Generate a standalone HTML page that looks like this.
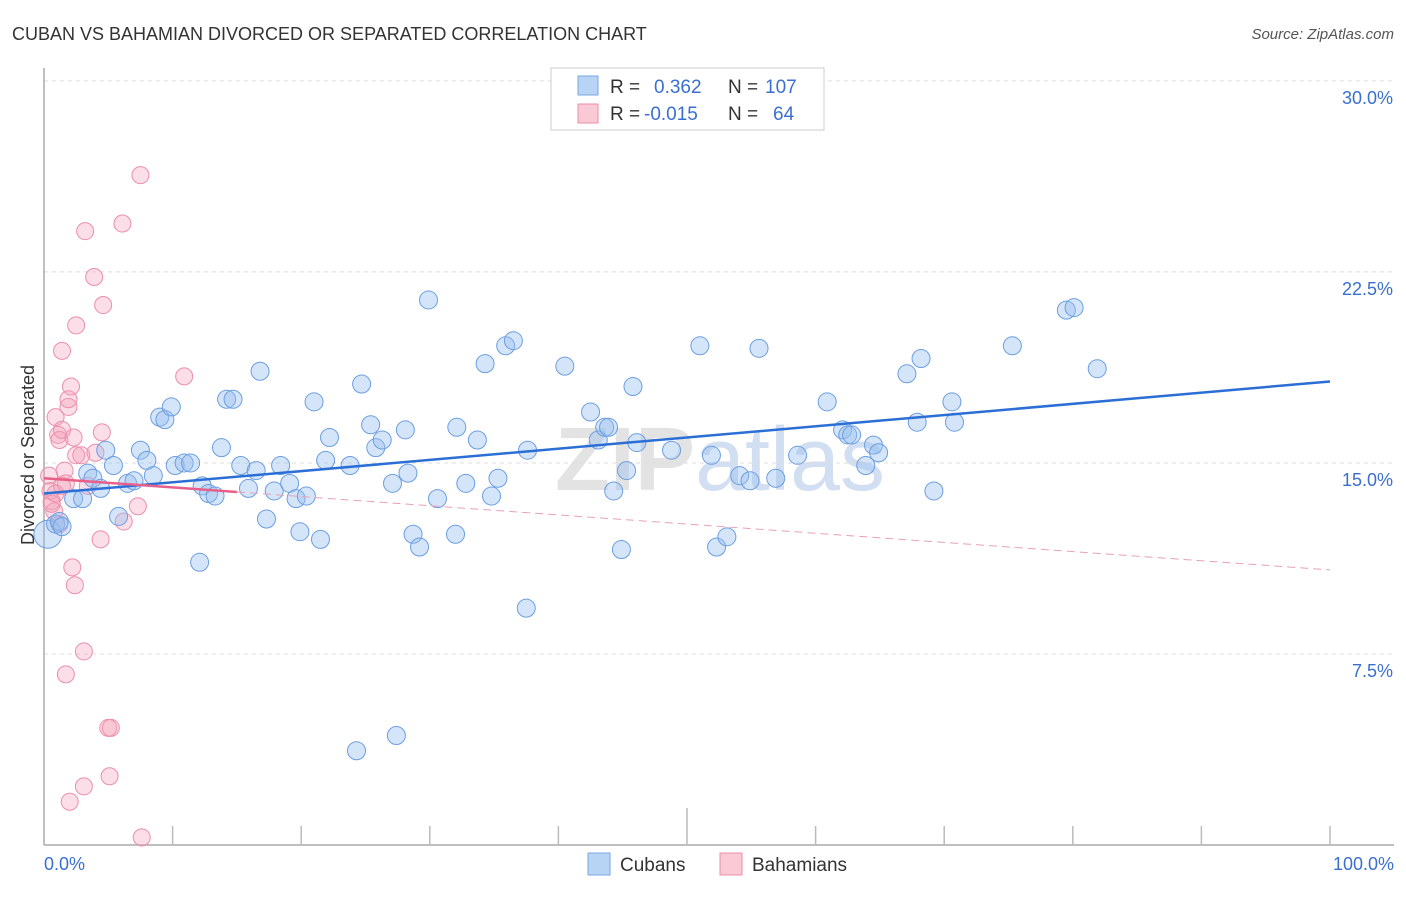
<!DOCTYPE html>
<html><head><meta charset="utf-8"><style>
body{margin:0;background:#fff;font-family:"Liberation Sans",sans-serif;}
svg text{font-family:"Liberation Sans",sans-serif;}
</style></head><body>
<svg width="1406" height="892" xmlns="http://www.w3.org/2000/svg">
<text x="12" y="40" font-size="18" fill="#333">CUBAN VS BAHAMIAN DIVORCED OR SEPARATED CORRELATION CHART</text>
<text x="1394" y="39" font-size="15" fill="#555" font-style="italic" text-anchor="end">Source: ZipAtlas.com</text>
<text x="720" y="490" font-size="90" fill="#ddd" text-anchor="middle" font-weight="bold" opacity="0.8">ZIP<tspan fill="#c8d8ef" font-weight="normal">atlas</tspan></text>
<g id="grid"></g>
<g id="axes"></g>
<g id="pts"></g>
<g id="trend"></g>
<text transform="translate(34,455) rotate(-90)" font-size="18" fill="#333" text-anchor="middle">Divorced or Separated</text>
<text x="44" y="870" font-size="18" fill="#3a6fd0">0.0%</text>
<text x="1394" y="870" font-size="18" fill="#3a6fd0" text-anchor="end">100.0%</text>
<g>
<rect x="551" y="68" width="273" height="62" fill="#fff" stroke="#ccc"/>
<rect x="578" y="76" width="20" height="19" fill="#b8d4f5" stroke="#7aa6e3"/>
<rect x="578" y="104" width="20" height="19" fill="#f9c9d6" stroke="#eb8fab"/>
<text x="610" y="93" font-size="19" fill="#333">R =</text><text x="654" y="93" font-size="19" fill="#3a6fd0">0.362</text>
<text x="728" y="93" font-size="19" fill="#333">N =</text><text x="765" y="93" font-size="19" fill="#3a6fd0">107</text>
<text x="610" y="120" font-size="19" fill="#333">R =</text><text x="644" y="120" font-size="19" fill="#3a6fd0">-0.015</text>
<text x="728" y="120" font-size="19" fill="#333">N =</text><text x="773" y="120" font-size="19" fill="#3a6fd0">64</text>
</g>
<g>
<rect x="588" y="853" width="22" height="22" fill="#b8d4f5" stroke="#7aa6e3"/>
<text x="620" y="871" font-size="19" fill="#333">Cubans</text>
<rect x="720" y="853" width="22" height="22" fill="#f9c9d6" stroke="#eb8fab"/>
<text x="752" y="871" font-size="19" fill="#333">Bahamians</text>
</g>
</svg>
<script>
const yTicks=[7.5,15,22.5,30];
const yTickLabels=["7.5%","15.0%","22.5%","30.0%"];
const cubanX=[0.3,0.9,1.2,1.4,2.3,3,3.4,3.8,4.4,4.8,5.4,5.8,6.5,7,7.5,8,8.5,9,9.4,9.9,10.2,10.9,11.4,12.1,12.3,12.8,13.3,13.8,14.2,14.7,15.3,15.9,16.5,16.8,17.3,17.9,18.4,19.1,19.6,19.9,20.4,21,21.5,21.9,22.2,23.8,24.3,24.7,25.4,25.8,26.3,27.1,27.4,28.1,28.3,28.7,29.2,29.9,30.6,32,32.1,32.8,33.7,34.3,34.8,35.3,35.9,36.5,37.5,37.6,40.5,42.5,43.1,43.6,43.9,44.3,44.9,45.3,45.8,46.1,48.8,51,51.9,52.3,53.1,54.1,54.9,55.6,56.9,58.6,60.9,62.1,62.5,62.8,63.9,64.5,64.9,67.1,67.9,68.2,69.2,70.6,70.8,75.3,79.5,80.1,81.9];
const cubanY=[12.2,12.6,12.7,12.5,13.6,13.6,14.6,14.4,14.0,15.5,14.9,12.9,14.2,14.3,15.5,15.1,14.5,16.8,16.7,17.2,14.9,15.0,15.0,11.1,14.1,13.8,13.7,15.6,17.5,17.5,14.9,14.0,14.7,18.6,12.8,13.9,14.9,14.2,13.6,12.3,13.7,17.4,12.0,15.1,16.0,14.9,3.7,18.1,16.5,15.6,15.9,14.2,4.3,16.3,14.6,12.2,11.7,21.4,13.6,12.2,16.4,14.2,15.9,18.9,13.7,14.4,19.6,19.8,9.3,15.5,18.8,17.0,15.9,16.4,16.4,13.9,11.6,14.7,18.0,15.8,15.5,19.6,15.3,11.7,12.1,14.5,14.3,19.5,14.4,15.3,17.4,16.3,16.1,16.1,14.9,15.7,15.4,18.5,16.6,19.1,13.9,17.4,16.6,19.6,21.0,21.1,18.7];
const bahX=[0.4,0.5,0.6,0.8,0.9,1.1,1.2,1.4,1.4,1.6,1.7,1.7,1.9,1.9,2.0,2.1,2.2,2.3,2.4,2.5,2.5,2.9,3.1,3.1,3.2,3.4,3.9,4.0,4.4,4.5,4.6,5.0,5.1,5.2,6.1,6.2,7.3,7.5,7.6,10.9,1.2,0.6,0.9,1.4];
const bahY=[14.5,13.9,13.5,13.1,16.8,16.1,15.9,19.4,16.3,14.7,14.2,6.7,17.2,17.5,1.7,18.0,10.9,16.0,10.2,15.3,20.4,15.3,2.3,7.6,24.1,14.1,22.3,15.4,12.0,16.2,21.2,4.6,2.7,4.6,24.4,12.7,13.3,26.3,0.3,18.4,12.6,13.4,13.8,14.1];
const cubanTrend=[13.8,18.2]; // y at x=0 and x=100
const bahTrend=[14.4,10.8];
const X=v=>44+v*12.86, Y=v=>845-v*25.47;
const NS="http://www.w3.org/2000/svg";
function mk(tag,attrs,parent){const e=document.createElementNS(NS,tag);for(const k in attrs)e.setAttribute(k,attrs[k]);parent.appendChild(e);return e;}
const grid=document.getElementById('grid');
yTicks.forEach((t,i)=>{
 const l=mk('line',{x1:44,x2:1394,y1:Y(t),y2:Y(t),stroke:'#ddd','stroke-dasharray':'4,4'},grid);
 
 
 const tx=mk('text',{x:1393,y:Y(t)+23,'font-size':18,fill:'#3a6fd0','text-anchor':'end'},grid);
 tx.textContent=yTickLabels[i];
 
 
});
const axes=document.getElementById('axes');
const ya=mk('line',{x1:44,x2:44,y1:68,y2:845,stroke:'#aaa','stroke-width':1.5},axes);


const xa=mk('line',{x1:44,x2:1394,y1:845,y2:845,stroke:'#aaa','stroke-width':1.5},axes);


for(let i=1;i<=10;i++){
 const tk=mk('line',{x1:X(i*10),x2:X(i*10),y1:i==5?808:826,y2:845,stroke:'#bbb','stroke-width':1.5},axes);
 
 
}
const pts=document.getElementById('pts');
bahX.forEach((x,i)=>{
 const c=mk('circle',{cx:X(x),cy:Y(bahY[i]),r:8.5,fill:'rgba(244,160,185,0.35)',stroke:'#ec8fab','stroke-width':1},pts);
 
 
});
cubanX.forEach((x,i)=>{
 const c=mk('circle',{cx:X(x),cy:Y(cubanY[i]),r:i==0?14:9,fill:'rgba(150,190,240,0.4)',stroke:'#6c9ee0','stroke-width':1},pts);
 
 
});
const tr=document.getElementById('trend');
const ct=mk('line',{x1:X(0),y1:Y(cubanTrend[0]),x2:X(100),y2:Y(cubanTrend[1]),stroke:'#2b6fd6','stroke-width':2.5},tr);


const bv=x=>bahTrend[0]+(bahTrend[1]-bahTrend[0])*x/100;
const bs=mk('line',{x1:X(0),y1:Y(bv(0)),x2:X(15),y2:Y(bv(15)),stroke:'#e8608a','stroke-width':2.5},tr);


const bd=mk('line',{x1:X(15),y1:Y(bv(15)),x2:X(100),y2:Y(bv(100)),stroke:'#e8a0b8','stroke-width':1,'stroke-dasharray':'8,5'},tr);


</script>
</body></html>
